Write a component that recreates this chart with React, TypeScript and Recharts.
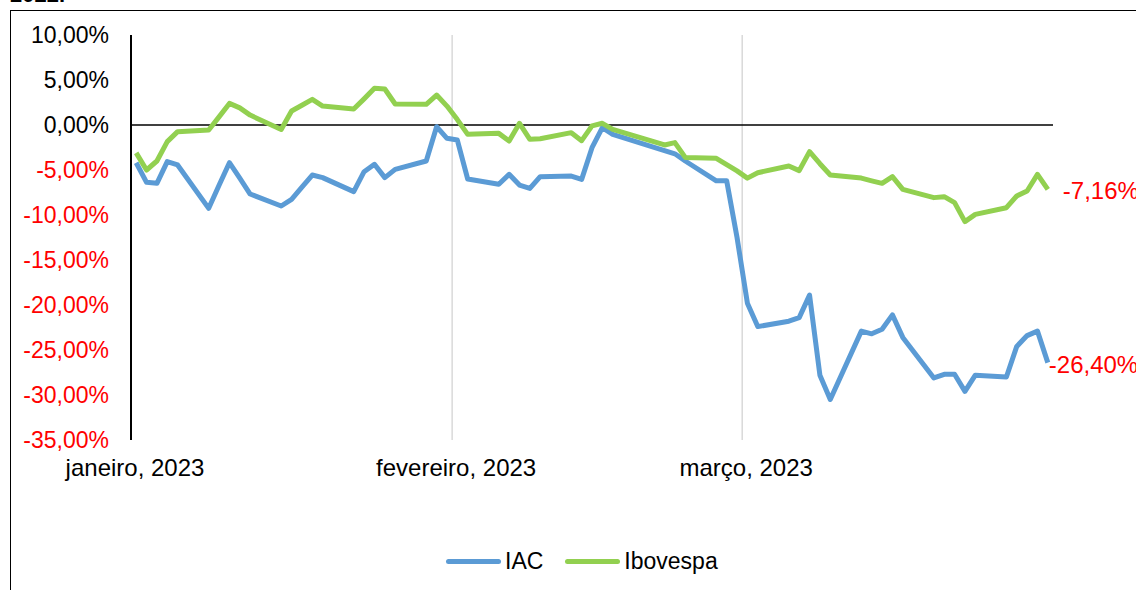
import React from "react";
import {
  LineChart,
  Line,
  XAxis,
  YAxis,
  CartesianGrid,
  ReferenceLine,
  LabelList,
} from "recharts";

// trading days, Q1 2023
const dates = [
  "2023-01-02", "2023-01-03", "2023-01-04", "2023-01-05", "2023-01-06",
  "2023-01-09", "2023-01-10", "2023-01-11", "2023-01-12", "2023-01-13",
  "2023-01-16", "2023-01-17", "2023-01-18", "2023-01-19", "2023-01-20",
  "2023-01-23", "2023-01-24", "2023-01-25", "2023-01-26", "2023-01-27",
  "2023-01-30", "2023-01-31", "2023-02-01", "2023-02-02", "2023-02-03",
  "2023-02-06", "2023-02-07", "2023-02-08", "2023-02-09", "2023-02-10",
  "2023-02-13", "2023-02-14", "2023-02-15", "2023-02-16", "2023-02-17",
  "2023-02-22", "2023-02-23", "2023-02-24", "2023-02-27", "2023-02-28",
  "2023-03-01", "2023-03-02", "2023-03-03", "2023-03-06", "2023-03-07",
  "2023-03-08", "2023-03-09", "2023-03-10", "2023-03-13", "2023-03-14",
  "2023-03-15", "2023-03-16", "2023-03-17", "2023-03-20", "2023-03-21",
  "2023-03-22", "2023-03-23", "2023-03-24", "2023-03-27", "2023-03-28",
  "2023-03-29", "2023-03-30", "2023-03-31",
];

const iac = [
  -4.19, -6.37, -6.48, -4.07, -4.44,
  -9.26, -6.7, -4.19, -5.9, -7.67,
  -9.0, -8.26, -6.9, -5.56, -5.85,
  -7.4, -5.19, -4.37, -5.85, -4.93,
  -4.0, -0.19, -1.48, -1.67, -6.0,
  -6.59, -5.48, -6.67, -7.04, -5.74,
  -5.67, -6.04, -2.52, -0.3, -1.04,
  -2.85, -3.2, -4.0, -6.2, -6.2,
  -12.5, -19.8, -22.4, -21.8, -21.4,
  -18.9, -27.8, -30.5, -22.9, -23.2,
  -22.7, -21.1, -23.6, -28.1, -27.7,
  -27.7, -29.6, -27.8, -28.0, -24.6,
  -23.4, -22.9, -26.4,
];

const ibovespa = [
  -3.1, -5.0, -4.0, -1.85, -0.74,
  -0.55, 0.9, 2.4, 1.9, 1.1,
  -0.5, 1.55, 2.2, 2.85, 2.1,
  1.78, 2.9, 4.07, 4.0, 2.33,
  2.3, 3.33, 2.1, 0.6, -1.04,
  -0.93, -1.78, 0.19, -1.59, -1.52,
  -0.85, -1.74, -0.1, 0.19, -0.48,
  -2.22, -1.96, -3.6, -3.7, -4.4,
  -5.1, -5.9, -5.3, -4.56, -5.07,
  -2.96, -4.3, -5.56, -5.9, -6.2,
  -6.48, -5.74, -7.15, -8.07, -7.96,
  -8.63, -10.74, -9.93, -9.19, -7.89,
  -7.33, -5.48, -7.16,
];

const yTicks = [10, 5, 0, -5, -10, -15, -20, -25, -30, -35];
const monthTicks = [
  { start: "2023-01-02", label: "janeiro, 2023" },
  { start: "2023-02-02", label: "fevereiro, 2023" },
  { start: "2023-03-02", label: "março, 2023" },
];

const FONT = '"Liberation Sans", Arial, sans-serif';
const BLUE = "#5B9BD5";
const GREEN = "#92D050";
const DAY = 86400000;
const t0 = Date.parse(dates[0]);
const dayOf = (s: string) => Math.round((Date.parse(s) - t0) / DAY);

const data = dates.map((d, i) => ({
  d: dayOf(d),
  iac: iac[i],
  ibov: ibovespa[i],
}));

const last = dates.length - 1;
// each month tick sits at the start of its day slot
const xTicks = monthTicks.map((m) => dayOf(m.start) - 0.5);
const xDomain = [-0.5, dayOf(dates[last]) + 0.5];

const pct = (v: number) => v.toFixed(2).replace(".", ",") + "%";

const YTick = ({ y, payload }: any) => (
  <text
    x={109}
    y={y}
    dy={8}
    textAnchor="end"
    fontSize={23}
    fontFamily={FONT}
    fill={payload.value < 0 ? "#FF0000" : "#000000"}
  >
    {pct(payload.value)}
  </text>
);

const XTick = ({ x, payload }: any) => {
  const m = monthTicks[xTicks.indexOf(payload.value)];
  return (
    <text
      x={x + 4}
      y={476}
      textAnchor="middle"
      fontSize={24}
      fontFamily={FONT}
      fill="#000000"
    >
      {m ? m.label : ""}
    </text>
  );
};

const endLabel = (dx: number) => (props: any) => {
  const { x, y, index, value } = props;
  if (index !== last) return null;
  return (
    <text
      x={x + dx}
      y={y}
      dy={10}
      fontSize={24}
      fontFamily={FONT}
      fill="#FF0000"
    >
      {pct(value)}
    </text>
  );
};

export default function App() {
  return (
    <div
      style={{
        position: "fixed",
        left: 0,
        top: 0,
        width: 1136,
        height: 590,
        overflow: "hidden",
        background: "#fff",
        fontFamily: FONT,
      }}
    >
      <div
        style={{
          position: "absolute",
          left: 10,
          top: 10,
          width: 1200,
          height: 700,
          border: "1.5px solid #000",
        }}
      />
      <div
        style={{
          position: "absolute",
          left: 10,
          top: -16,
          fontSize: 22,
          lineHeight: "22px",
          fontWeight: "bold",
        }}
      >
        2022.
      </div>

      <div style={{ position: "absolute", left: 0, top: 0 }}>
        <LineChart
          width={1136}
          height={590}
          data={data}
          margin={{ top: 35, right: 83, bottom: 120, left: 0 }}
        >
          <CartesianGrid
            horizontal={false}
            stroke="#D9D9D9"
            strokeWidth={1.5}
            verticalValues={xTicks}
          />
          <XAxis
            type="number"
            dataKey="d"
            domain={xDomain}
            ticks={xTicks}
            allowDataOverflow
            axisLine={false}
            tickLine={false}
            height={30}
            interval={0}
            tick={<XTick />}
          />
          <YAxis
            type="number"
            domain={[-35, 10]}
            ticks={yTicks}
            interval={0}
            width={131}
            axisLine={{ stroke: "#000", strokeWidth: 2 }}
            tickLine={false}
            tick={<YTick />}
          />
          <ReferenceLine y={0} stroke="#000" strokeWidth={1.5} />
          <Line
            type="linear"
            dataKey="iac"
            stroke={BLUE}
            strokeWidth={5}
            dot={false}
            strokeLinejoin="round"
            isAnimationActive={false}
          >
            <LabelList dataKey="iac" content={endLabel(1)} />
          </Line>
          <Line
            type="linear"
            dataKey="ibov"
            stroke={GREEN}
            strokeWidth={5}
            dot={false}
            strokeLinejoin="round"
            isAnimationActive={false}
          >
            <LabelList dataKey="ibov" content={endLabel(15)} />
          </Line>
        </LineChart>
      </div>

      {/* legend */}
      <div
        style={{
          position: "absolute",
          left: 446,
          top: 548,
          display: "flex",
          alignItems: "center",
          fontSize: 23,
          lineHeight: "27px",
        }}
      >
        <span style={{ width: 55, height: 5, background: BLUE, borderRadius: 2.5 }} />
        <span style={{ marginLeft: 4 }}>IAC</span>
        <span
          style={{ width: 55, height: 5, background: GREEN, borderRadius: 2.5, marginLeft: 22 }}
        />
        <span style={{ marginLeft: 4 }}>Ibovespa</span>
      </div>
    </div>
  );
}
